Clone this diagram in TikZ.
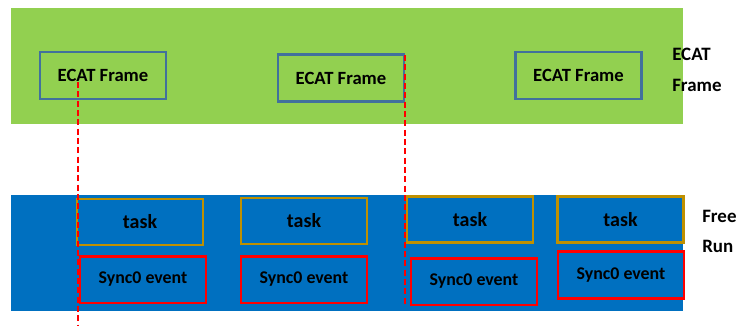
\documentclass[tikz,border=0pt]{standalone}
\usepackage{fontspec}
\setmainfont{Carlito}
\usetikzlibrary{positioning}
\definecolor{framegreen}{HTML}{92D050}
\definecolor{runblue}{HTML}{0070C0}
\definecolor{edgeblue}{HTML}{41719C}
\definecolor{taskgold}{HTML}{BF9000}
\definecolor{syncred}{HTML}{FF0000}

\begin{document}
\begin{tikzpicture}[
    x=0.75pt,
    y=-0.75pt,
    band/.style={
        rectangle,
        fill=#1,
        draw=none,
        minimum width=504pt,
        minimum height=87pt,
        inner sep=0pt
    },
    frm/.style={
        rectangle,
        draw=edgeblue,
        line width=1.8pt,
        minimum width=94.5pt,
        minimum height=35pt,
        inner sep=0pt,
        font=\fontsize{14}{17}\selectfont\bfseries
    },
    taskbox/.style={
        rectangle,
        draw=taskgold,
        line width=1.8pt,
        minimum width=94.5pt,
        minimum height=34.5pt,
        inner sep=0pt,
        font=\fontsize{15}{18}\selectfont\bfseries
    },
    syncbox/.style={
        rectangle,
        draw=syncred,
        line width=2pt,
        minimum width=94.5pt,
        minimum height=35pt,
        inner sep=0pt,
        font=\fontsize{13.4}{16}\selectfont\bfseries
    },
    sidelabel/.style={
        anchor=base west,
        inner sep=0pt,
        font=\fontsize{14.2}{17}\selectfont\bfseries
    },
    marker/.style={draw=syncred, line width=0.8pt, dash pattern=on 4.5pt off 2.5pt}
]

\fill[white] (0,0) rectangle (739,326);
\useasboundingbox (0,0) rectangle (739,326);

% Bandas de fondo
\node[band=framegreen] (ecatband) at (347,66) {};
\node[band=runblue] (runband) at (347,253) {};

% Tramas ECAT
\node[frm] (frame1) at (103,75.5) {ECAT Frame};
\node[frm] (frame2) at (341,78) {ECAT Frame};
\node[frm] (frame3) at (578.5,75.5) {ECAT Frame};

% Tareas
\node[taskbox] (task1) at (140,222) {task};
\node[taskbox] (task2) at (304,221) {task};
\node[taskbox] (task3) at (470,219.5) {task};
\node[taskbox] (task4) at (620.5,219.5) {task};

% Eventos Sync0
\node[syncbox] (sync1) at (143,279.5) {Sync0 event};
\node[syncbox] (sync2) at (304,279.5) {Sync0 event};
\node[syncbox] (sync3) at (474,281.5) {Sync0 event};
\node[syncbox] (sync4) at (621,275) {Sync0 event};

% Etiquetas laterales
\node[sidelabel] (lblecat) at (672,60.7) {ECAT};
\node[sidelabel] (lblframe) at (672,91) {Frame};
\node[sidelabel] (lblfree) at (702,222) {Free};
\node[sidelabel] (lblrun) at (702,252) {Run};

% Marcas de tiempo
\coordinate (cut1top) at (78,82);
\coordinate (cut1bot) at (78,326);
\coordinate (cut2top) at (405,55);
\coordinate (cut2bot) at (405,305);
\draw[marker] (cut1top) -- (cut1bot);
\draw[marker] (cut2top) -- (cut2bot);

\end{tikzpicture}
\end{document}
